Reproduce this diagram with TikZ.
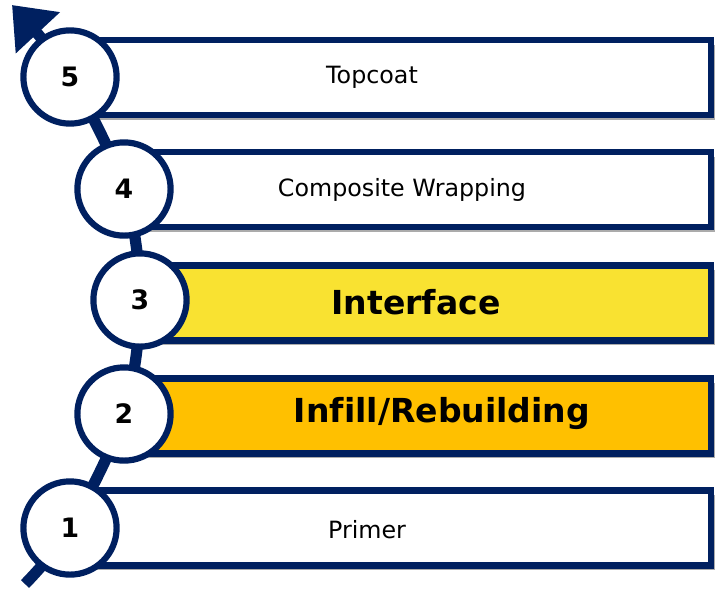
\documentclass[tikz,border=0pt]{standalone}
\usepackage{fontspec}
\setmainfont[Ligatures=NoCommon]{DejaVu Sans}
\usetikzlibrary{arrows.meta, shadows}
\definecolor{navy}{HTML}{002060}
\definecolor{yellowfill}{HTML}{F9E231}
\definecolor{goldfill}{HTML}{FFC000}

\begin{document}
\begin{tikzpicture}[x=0.025cm, y=-0.025cm,
  layer/.style={rectangle, draw=navy, line width=4.6pt, fill=white, minimum height=1.875cm, inner sep=0pt,
    drop shadow={shadow xshift=2.5pt, shadow yshift=-3.5pt, fill=black!60, opacity=0.55}},
  stage/.style={circle, draw=navy, line width=4.4pt, fill=white, minimum size=2.33cm, inner sep=0pt,
    font=\fontsize{19}{21}\selectfont\bfseries},
  plain/.style={font=\fontsize{16.9}{20}\selectfont},
  heavy/.style={font=\fontsize{23.5}{28}\selectfont\bfseries}]
  \useasboundingbox (0,0) rectangle (720,592);

  % centres of the numbered steps
  \coordinate (p1) at (70,528);
  \coordinate (p2) at (124,414);
  \coordinate (p3) at (140,300);
  \coordinate (p4) at (124,189);
  \coordinate (p5) at (70,77);
  \coordinate (tail) at (25,584);
  \coordinate (tip) at (12,5);

  % layers
  \node[layer, minimum width=16.025cm] (b5) at (390.5,77.5) {};
  \node[layer, minimum width=14.675cm] (b4) at (417.5,189.5) {};
  \node[layer, minimum width=14.275cm, fill=yellowfill] (b3) at (425.5,303) {};
  \node[layer, minimum width=14.675cm, fill=goldfill] (b2) at (417.5,416) {};
  \node[layer, minimum width=16.025cm] (b1) at (390.5,528) {};

  \node[plain] (t5) at (372,77) {Topcoat};
  \node[plain] (t4) at (402,190) {Composite Wrapping};
  \node[heavy] (t3) at (416,302) {Interface};
  \node[heavy] (t2) at (442,414) {Infill/Rebuilding};
  \node[plain] (t1) at (367,530) {Primer};

  % the rising arrow
  \draw[navy, line width=8pt, -{Triangle[length=0.95cm, width=1.45cm]}]
    plot[smooth, tension=0.55] coordinates {(tail) (p1) (p2) (p3) (p4) (p5) (tip)};

  % steps
  \node[stage] (c1) at (p1) {1};
  \node[stage] (c2) at (p2) {2};
  \node[stage] (c3) at (p3) {3};
  \node[stage] (c4) at (p4) {4};
  \node[stage] (c5) at (p5) {5};
\end{tikzpicture}
\end{document}
